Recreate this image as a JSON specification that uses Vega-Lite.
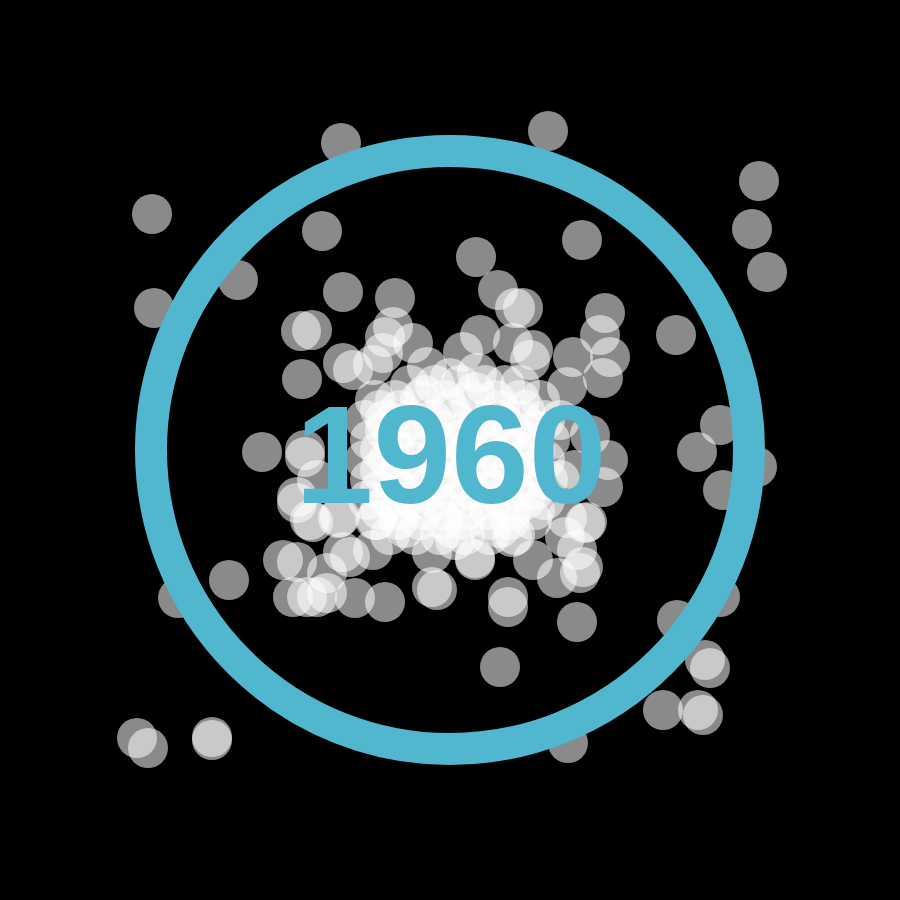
{
  "$schema": "https://vega.github.io/schema/vega-lite/v6.json",
  "width": 900,
  "height": 900,
  "padding": 0,
  "autosize": {"type": "fit", "contains": "padding"},
  "background": "#000000",
  "config": {"view": {"stroke": null}},
  "datasets": {
    "pts": [
      {"x":341,"y":143},{"x":548,"y":131},{"x":152,"y":214},{"x":759,"y":181},{"x":322,"y":231},{"x":752,"y":229},{"x":238,"y":280},{"x":767,"y":272},{"x":154,"y":308},{"x":582,"y":240},{"x":476,"y":257},{"x":498,"y":290},{"x":676,"y":335},{"x":720,"y":425},{"x":697,"y":452},{"x":757,"y":467},{"x":723,"y":490},{"x":229,"y":580},{"x":178,"y":598},{"x":137,"y":738},{"x":148,"y":748},{"x":212,"y":737},{"x":212,"y":740},{"x":500,"y":667},{"x":677,"y":620},{"x":720,"y":597},{"x":705,"y":660},{"x":710,"y":668},{"x":663,"y":710},{"x":698,"y":710},{"x":703,"y":715},{"x":568,"y":743},{"x":262,"y":452},
      {"x":343,"y":292},{"x":395,"y":298},{"x":301,"y":331},{"x":312,"y":330},{"x":302,"y":379},{"x":393,"y":327},{"x":385,"y":337},{"x":413,"y":343},{"x":343,"y":363},{"x":383,"y":353},{"x":353,"y":370},{"x":373,"y":365},{"x":515,"y":308},{"x":523,"y":308},{"x":605,"y":313},{"x":480,"y":335},{"x":513,"y":343},{"x":533,"y":350},{"x":600,"y":335},{"x":463,"y":352},{"x":573,"y":357},{"x":610,"y":357},{"x":530,"y":360},{"x":603,"y":378},{"x":567,"y":387},{"x":427,"y":367},{"x":477,"y":373},{"x":608,"y":460},{"x":603,"y":487},{"x":587,"y":522},{"x":565,"y":537},{"x":577,"y":550},{"x":580,"y":573},{"x":583,"y":567},{"x":533,"y":560},{"x":475,"y":560},{"x":508,"y":597},{"x":508,"y":607},{"x":577,"y":622},{"x":557,"y":578},{"x":567,"y":518},{"x":585,"y":523},
      {"x":305,"y":450},{"x":317,"y":480},{"x":297,"y":497},{"x":310,"y":520},{"x":297,"y":503},{"x":313,"y":522},{"x":338,"y":518},{"x":283,"y":560},{"x":297,"y":562},{"x":343,"y":552},{"x":350,"y":557},{"x":373,"y":550},{"x":327,"y":573},{"x":293,"y":597},{"x":307,"y":597},{"x":317,"y":597},{"x":327,"y":593},{"x":355,"y":598},{"x":385,"y":602},{"x":432,"y":553},{"x":432,"y":587},{"x":437,"y":590},{"x":455,"y":540},{"x":475,"y":558},{"x":512,"y":537},{"x":377,"y":520},{"x":340,"y":517},{"x":305,"y":457},{"x":590,"y":435},{"x":575,"y":470},{"x":560,"y":420},{"x":560,"y":480},
      {"x":410,"y":385},{"x":435,"y":385},{"x":460,"y":385},{"x":485,"y":385},{"x":505,"y":385},
      {"x":375,"y":400},{"x":395,"y":400},{"x":420,"y":400},{"x":445,"y":400},{"x":470,"y":400},{"x":495,"y":400},{"x":520,"y":400},{"x":540,"y":400},
      {"x":365,"y":420},{"x":385,"y":420},{"x":410,"y":420},{"x":432,"y":420},{"x":455,"y":420},{"x":478,"y":420},{"x":500,"y":420},{"x":522,"y":420},{"x":545,"y":420},
      {"x":370,"y":440},{"x":392,"y":440},{"x":415,"y":440},{"x":438,"y":440},{"x":460,"y":440},{"x":483,"y":440},{"x":505,"y":440},{"x":528,"y":440},{"x":550,"y":440},
      {"x":365,"y":460},{"x":388,"y":460},{"x":410,"y":460},{"x":433,"y":460},{"x":455,"y":460},{"x":478,"y":460},{"x":500,"y":460},{"x":523,"y":460},{"x":545,"y":460},
      {"x":370,"y":480},{"x":392,"y":480},{"x":415,"y":480},{"x":437,"y":480},{"x":460,"y":480},{"x":482,"y":480},{"x":505,"y":480},{"x":527,"y":480},{"x":548,"y":480},
      {"x":368,"y":500},{"x":390,"y":500},{"x":413,"y":500},{"x":435,"y":500},{"x":458,"y":500},{"x":480,"y":500},{"x":503,"y":500},{"x":525,"y":500},{"x":545,"y":500},
      {"x":375,"y":520},{"x":398,"y":520},{"x":420,"y":520},{"x":443,"y":520},{"x":465,"y":520},{"x":488,"y":520},{"x":510,"y":520},{"x":532,"y":520},
      {"x":390,"y":535},{"x":415,"y":535},{"x":440,"y":535},{"x":465,"y":535},{"x":490,"y":535},{"x":515,"y":535},
      {"x":400,"y":410},{"x":450,"y":410},{"x":500,"y":410},
      {"x":400,"y":430},{"x":445,"y":430},{"x":490,"y":430},{"x":535,"y":430},
      {"x":380,"y":450},{"x":425,"y":450},{"x":470,"y":450},{"x":515,"y":450},
      {"x":400,"y":470},{"x":445,"y":470},{"x":490,"y":470},{"x":535,"y":470},
      {"x":380,"y":490},{"x":425,"y":490},{"x":470,"y":490},{"x":515,"y":490},
      {"x":400,"y":510},{"x":445,"y":510},{"x":490,"y":510},{"x":535,"y":510},
      {"x":425,"y":395},{"x":475,"y":392},{"x":525,"y":410},{"x":385,"y":430},{"x":425,"y":430},{"x":468,"y":430},{"x":512,"y":430},
      {"x":395,"y":450},{"x":448,"y":450},{"x":492,"y":450},{"x":535,"y":450},{"x":380,"y":470},{"x":422,"y":470},{"x":468,"y":470},{"x":512,"y":470},
      {"x":400,"y":490},{"x":447,"y":490},{"x":492,"y":490},{"x":535,"y":490},{"x":380,"y":510},{"x":423,"y":510},{"x":468,"y":510},{"x":512,"y":510},
      {"x":405,"y":528},{"x":452,"y":528},{"x":500,"y":528},{"x":380,"y":410},{"x":450,"y":378},{"x":520,"y":385}
    ],
    "centre": [{"x": 450, "y": 450, "year": "1960"}]
  },
  "layer": [
    {
      "data": {"name": "pts"},
      "mark": {"type": "circle", "size": 1600, "color": "#ffffff", "opacity": 0.54, "strokeWidth": 0},
      "encoding": {
        "x": {"field": "x", "type": "quantitative", "scale": {"domain": [0, 900]}, "axis": null},
        "y": {"field": "y", "type": "quantitative", "scale": {"domain": [0, 900], "reverse": true}, "axis": null}
      }
    },
    {
      "data": {"name": "centre"},
      "mark": {"type": "point", "shape": "circle", "filled": false, "size": 357604, "stroke": "#51b7ce", "strokeWidth": 32, "opacity": 1},
      "encoding": {
        "x": {"field": "x", "type": "quantitative"},
        "y": {"field": "y", "type": "quantitative"}
      }
    },
    {
      "data": {"name": "centre"},
      "mark": {"type": "text", "font": "Liberation Sans", "fontWeight": "bold", "fontSize": 140, "color": "#51b7ce", "align": "center", "baseline": "alphabetic", "dx": 1, "dy": 53},
      "encoding": {
        "x": {"field": "x", "type": "quantitative"},
        "y": {"field": "y", "type": "quantitative"},
        "text": {"field": "year"}
      }
    }
  ]
}
